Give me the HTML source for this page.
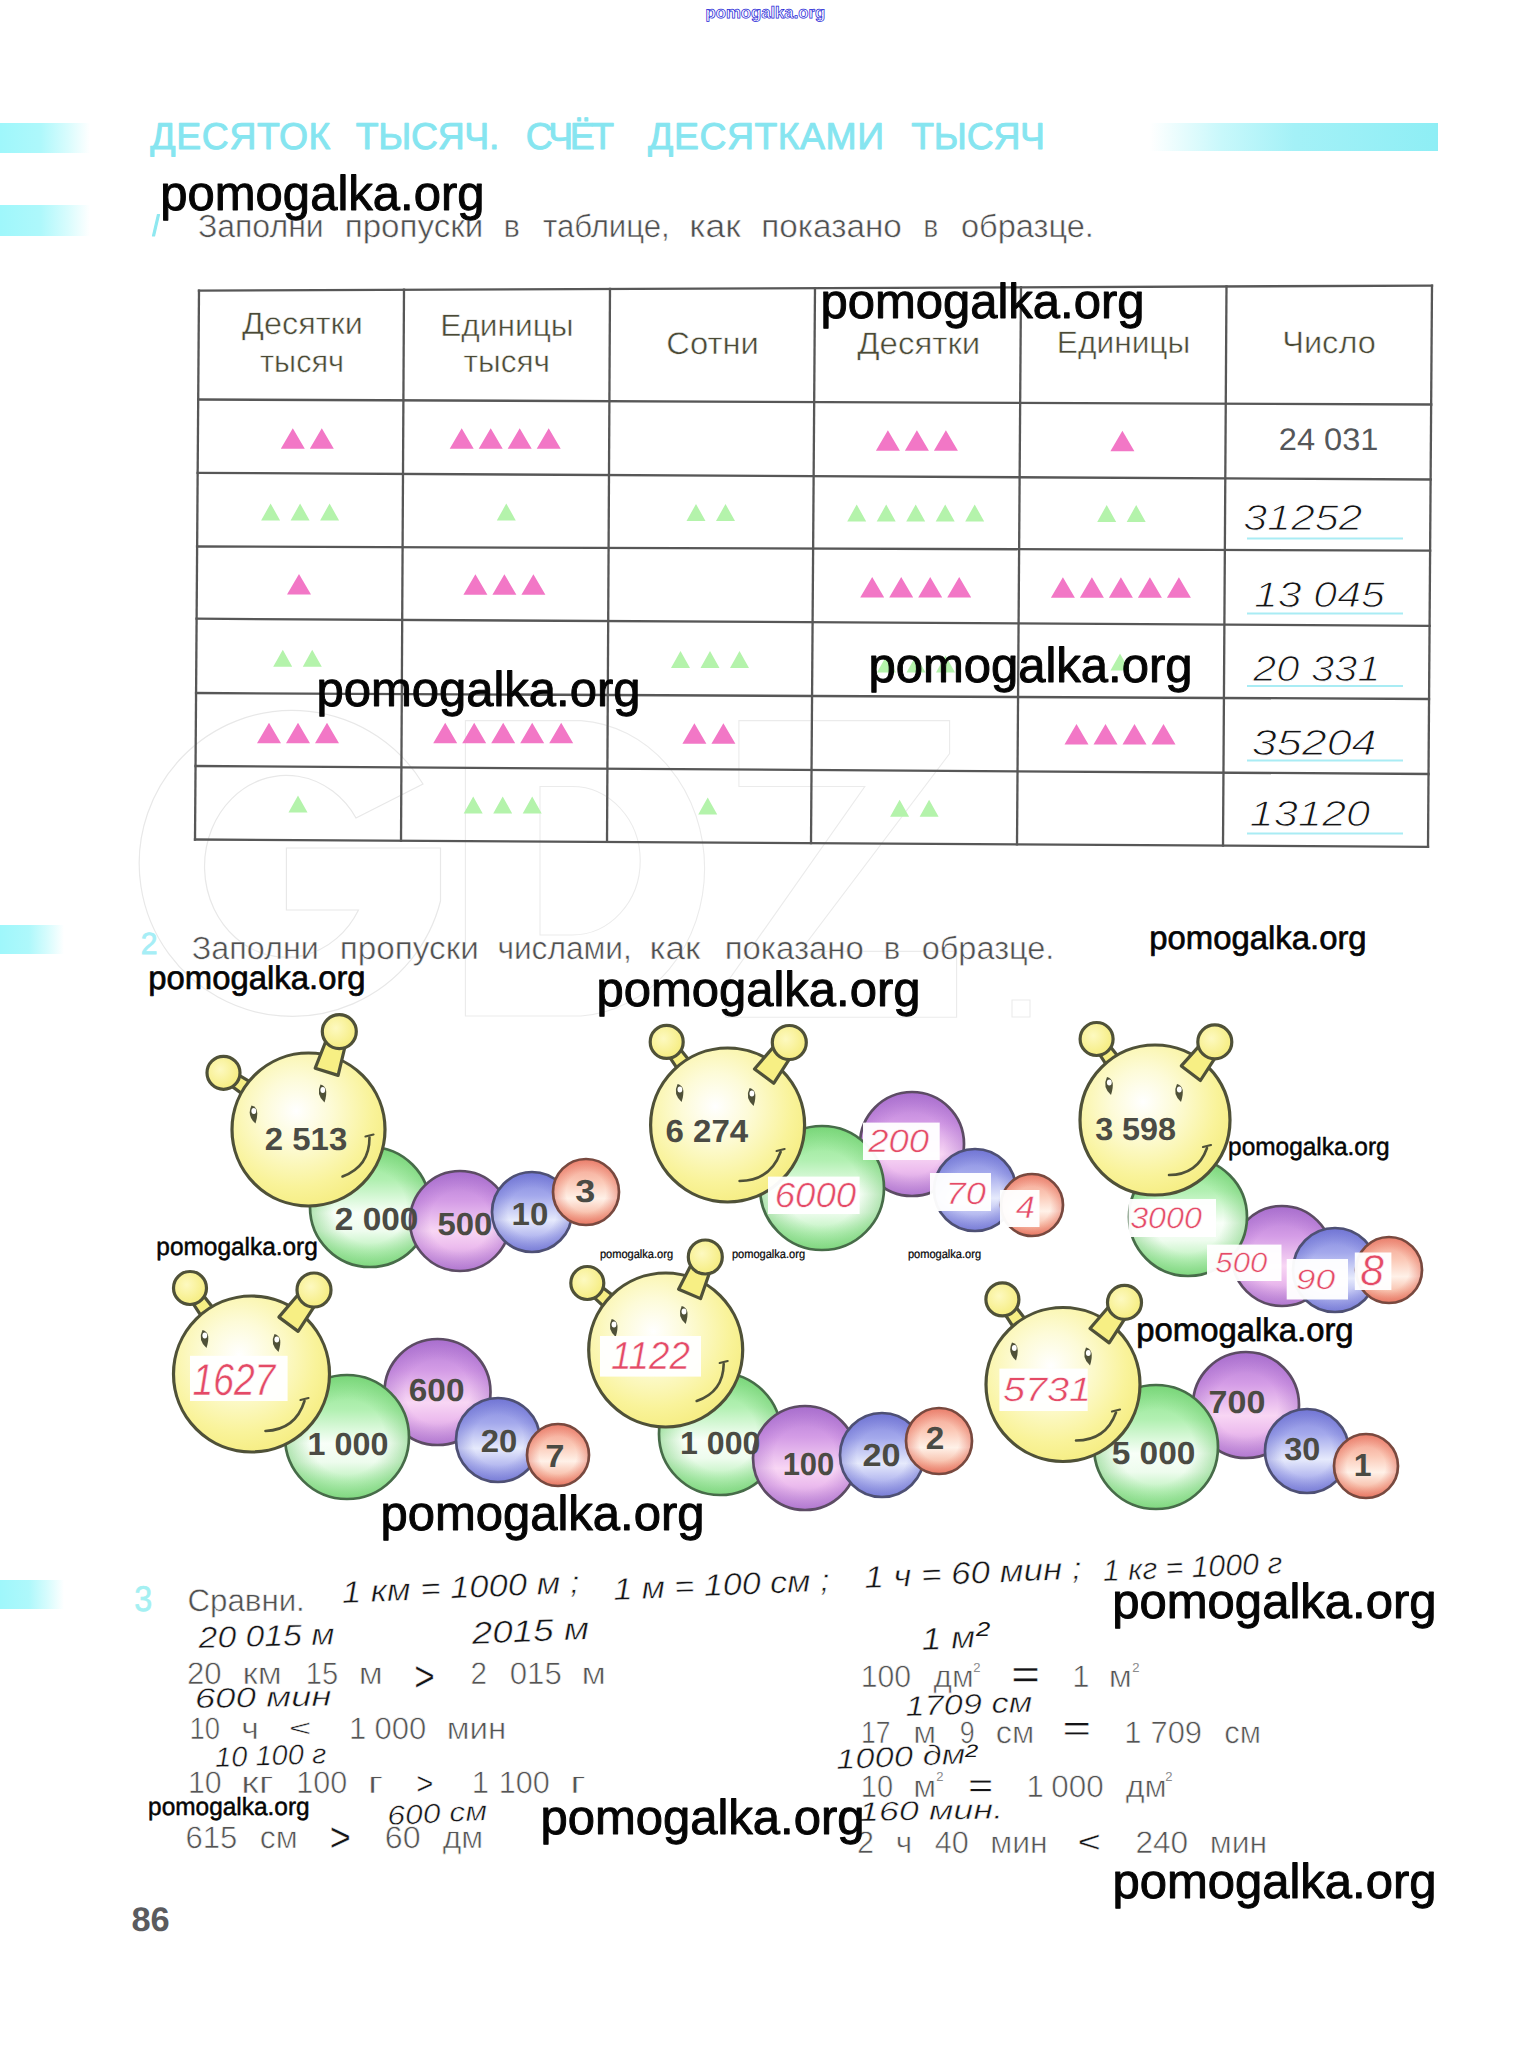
<!DOCTYPE html><html><head><meta charset="utf-8"><title>page 86</title><style>html,body{margin:0;padding:0;background:#fff;width:1529px;height:2061px;overflow:hidden;}svg{display:block;font-family:"Liberation Sans",sans-serif;}</style></head><body><svg width="1529" height="2061" viewBox="0 0 1529 2061" font-family="Liberation Sans" text-rendering="geometricPrecision"><defs>
<linearGradient id="barL" x1="0" x2="1" y1="0" y2="0">
  <stop offset="0" stop-color="#9ff7fb"/><stop offset="0.45" stop-color="#aef8fb"/>
  <stop offset="0.75" stop-color="#d8fcfd"/><stop offset="1" stop-color="#ffffff"/></linearGradient>
<linearGradient id="barR" x1="0" x2="1" y1="0" y2="0">
  <stop offset="0" stop-color="#ffffff"/><stop offset="0.25" stop-color="#c8f8fb"/>
  <stop offset="0.5" stop-color="#a4f1f7"/><stop offset="1" stop-color="#8eeef5"/></linearGradient>

<radialGradient id="gY" cx="0.42" cy="0.38" r="0.62"><stop offset="0" stop-color="#ffffff"/><stop offset="0.35" stop-color="#fdfbd8"/><stop offset="0.8" stop-color="#f9f39a"/><stop offset="1" stop-color="#f6ee86"/></radialGradient>
<linearGradient id="gG" x1="0" y1="0" x2="0" y2="1"><stop offset="0" stop-color="#8fe48f"/><stop offset="0.28" stop-color="#b2f0b2"/><stop offset="0.55" stop-color="#f8fff8"/><stop offset="0.7" stop-color="#eefcee"/><stop offset="0.86" stop-color="#bdf2bd"/><stop offset="1" stop-color="#9ce69c"/></linearGradient>
<radialGradient id="oG" cx="0.5" cy="0.5" r="0.5"><stop offset="0.6" stop-color="#5cc45c" stop-opacity="0"/><stop offset="1" stop-color="#5cc45c" stop-opacity="0.45"/></radialGradient>
<linearGradient id="gP" x1="0" y1="0" x2="0" y2="1"><stop offset="0" stop-color="#b27ad4"/><stop offset="0.3" stop-color="#d49ce6"/><stop offset="0.6" stop-color="#f8d6f4"/><stop offset="0.76" stop-color="#ecbcee"/><stop offset="1" stop-color="#c08ad8"/></linearGradient>
<radialGradient id="oP" cx="0.5" cy="0.5" r="0.5"><stop offset="0.6" stop-color="#9a5cc4" stop-opacity="0"/><stop offset="1" stop-color="#9a5cc4" stop-opacity="0.4"/></radialGradient>
<linearGradient id="gB" x1="0" y1="0" x2="0" y2="1"><stop offset="0" stop-color="#8084dc"/><stop offset="0.3" stop-color="#a4a9ec"/><stop offset="0.6" stop-color="#e6eafc"/><stop offset="0.8" stop-color="#b6baf0"/><stop offset="1" stop-color="#8c90e0"/></linearGradient>
<radialGradient id="oB" cx="0.5" cy="0.5" r="0.5"><stop offset="0.6" stop-color="#5a5ec8" stop-opacity="0"/><stop offset="1" stop-color="#5a5ec8" stop-opacity="0.4"/></radialGradient>
<linearGradient id="gR" x1="0" y1="0" x2="0" y2="1"><stop offset="0" stop-color="#f29a88"/><stop offset="0.35" stop-color="#fbcab8"/><stop offset="0.6" stop-color="#fff1e8"/><stop offset="0.82" stop-color="#f8c2ae"/><stop offset="1" stop-color="#ee8e7a"/></linearGradient>
<radialGradient id="oR" cx="0.5" cy="0.5" r="0.5"><stop offset="0.6" stop-color="#e05a46" stop-opacity="0"/><stop offset="1" stop-color="#e05a46" stop-opacity="0.45"/></radialGradient>
<radialGradient id="gA" cx="0.4" cy="0.4" r="0.65"><stop offset="0" stop-color="#fdf9c0"/><stop offset="1" stop-color="#f5ec7c"/></radialGradient>
</defs><rect width="1529" height="2061" fill="#ffffff"/><path d="M423,784 A153,153 0 1,0 440.5,901 L440.5,848 L286.4,848 L286.4,910 L358.5,910 A82,91 0 1,1 356,818 Z" fill="none" stroke="#e8e8e8" stroke-width="1.2"/>
<path d="M465.4,720.6 L581,720.6 A132,148 0 0,1 581,1016 L465.4,1016 Z M540,786.5 L572,786.5 A68,74 0 0,1 572,935 L540,935 Z M738.9,720.6 L949.6,720.6 L949.6,753.6 L800,951.4 L956.6,951.4 L956.6,1017.3 L725.9,1017.3 L725.9,984 L864.8,786.5 L738.9,786.5 Z M1012,1000 h18 v17 h-18 Z" fill="none" stroke="#ebebeb" stroke-width="1.1"/>
<rect x="0" y="123" width="90" height="30" fill="url(#barL)"/>
<rect x="0" y="205" width="90" height="31" fill="url(#barL)"/>
<rect x="0" y="925" width="64" height="29" fill="url(#barL)"/>
<rect x="0" y="1580" width="64" height="29" fill="url(#barL)"/>
<rect x="1150" y="123" width="288" height="28" fill="url(#barR)"/>
<text x="150.31" y="148.6" font-size="37.40" fill="#86e5f0" textLength="180.07" lengthAdjust="spacing" stroke="#86e5f0" stroke-width="0.9" stroke-linejoin="round">ДЕСЯТОК</text>
<text x="355.86" y="148.6" font-size="37.40" fill="#86e5f0" textLength="143.45" lengthAdjust="spacing" stroke="#86e5f0" stroke-width="0.9" stroke-linejoin="round">ТЫСЯЧ.</text>
<text x="525.82" y="148.6" font-size="37.40" fill="#86e5f0" textLength="88.31" lengthAdjust="spacing" stroke="#86e5f0" stroke-width="0.9" stroke-linejoin="round">СЧЁТ</text>
<text x="648.11" y="148.6" font-size="37.40" fill="#86e5f0" textLength="235.97" lengthAdjust="spacing" stroke="#86e5f0" stroke-width="0.9" stroke-linejoin="round">ДЕСЯТКАМИ</text>
<text x="911.26" y="148.6" font-size="37.40" fill="#86e5f0" textLength="133.78" lengthAdjust="spacing" stroke="#86e5f0" stroke-width="0.9" stroke-linejoin="round">ТЫСЯЧ</text>
<path d="M159.5,214.5 L157.5,214.5 L152.5,236 L154.5,236 Z" fill="#8fe8f0" stroke="#8fe8f0" stroke-width="1.2" stroke-linejoin="round"/>
<text x="197.88" y="237.2" font-size="32.00" fill="#4f4f4f" textLength="125.87" lengthAdjust="spacingAndGlyphs" stroke="#ffffff" stroke-width="0.5">Заполни</text>
<text x="344.68" y="237.2" font-size="32.00" fill="#4f4f4f" textLength="138.65" lengthAdjust="spacingAndGlyphs" stroke="#ffffff" stroke-width="0.5">пропуски</text>
<text x="503.68" y="237.2" font-size="32.00" fill="#4f4f4f" textLength="16.06" lengthAdjust="spacingAndGlyphs" stroke="#ffffff" stroke-width="0.5">в</text>
<text x="543.03" y="237.2" font-size="32.00" fill="#4f4f4f" textLength="126.72" lengthAdjust="spacingAndGlyphs" stroke="#ffffff" stroke-width="0.5">таблице,</text>
<text x="689.29" y="237.2" font-size="32.00" fill="#4f4f4f" textLength="51.64" lengthAdjust="spacingAndGlyphs" stroke="#ffffff" stroke-width="0.5">как</text>
<text x="761.17" y="237.2" font-size="32.00" fill="#4f4f4f" textLength="140.67" lengthAdjust="spacingAndGlyphs" stroke="#ffffff" stroke-width="0.5">показано</text>
<text x="923.47" y="237.2" font-size="32.00" fill="#4f4f4f" textLength="14.67" lengthAdjust="spacingAndGlyphs" stroke="#ffffff" stroke-width="0.5">в</text>
<text x="961.00" y="237.2" font-size="32.00" fill="#4f4f4f" textLength="132.90" lengthAdjust="spacingAndGlyphs" stroke="#ffffff" stroke-width="0.5">образце.</text>
<g stroke="#575757" stroke-width="2.3" fill="none"><line x1="197.8" y1="290.6" x2="1433.2" y2="285.6"/><line x1="197.0" y1="399.5" x2="1432.4" y2="404.5"/><line x1="196.5" y1="472.8" x2="1431.8" y2="479.5"/><line x1="195.9" y1="546.5" x2="1431.3" y2="550.6"/><line x1="195.4" y1="618.7" x2="1430.8" y2="625.8"/><line x1="194.9" y1="693" x2="1430.2" y2="699"/><line x1="194.4" y1="766" x2="1429.7" y2="774"/><line x1="193.8" y1="839.5" x2="1429.2" y2="846.8"/><line x1="199" y1="289.4" x2="195" y2="840.7"/><line x1="404" y1="288.6" x2="401" y2="841.9"/><line x1="610" y1="287.7" x2="607" y2="843.1"/><line x1="815" y1="286.9" x2="811" y2="844.3"/><line x1="1021" y1="286.1" x2="1017" y2="845.6"/><line x1="1226.5" y1="285.2" x2="1223" y2="846.8"/><line x1="1432" y1="284.4" x2="1428" y2="848.0"/></g>
<text x="242.14" y="333.5" font-size="31.00" fill="#4a4a36" textLength="120.60" lengthAdjust="spacingAndGlyphs" stroke="#ffffff" stroke-width="0.5">Десятки</text>
<text x="260.04" y="372.3" font-size="31.00" fill="#4a4a36" textLength="84.09" lengthAdjust="spacingAndGlyphs" stroke="#ffffff" stroke-width="0.5">тысяч</text>
<text x="440.17" y="336.3" font-size="31.00" fill="#4a4a36" textLength="133.44" lengthAdjust="spacingAndGlyphs" stroke="#ffffff" stroke-width="0.5">Единицы</text>
<text x="463.53" y="372.3" font-size="31.00" fill="#4a4a36" textLength="86.46" lengthAdjust="spacingAndGlyphs" stroke="#ffffff" stroke-width="0.5">тысяч</text>
<text x="666.36" y="354.3" font-size="31.00" fill="#4a4a36" textLength="92.44" lengthAdjust="spacingAndGlyphs" stroke="#ffffff" stroke-width="0.5">Сотни</text>
<text x="857.24" y="353.5" font-size="31.00" fill="#4a4a36" textLength="123.04" lengthAdjust="spacingAndGlyphs" stroke="#ffffff" stroke-width="0.5">Десятки</text>
<text x="1056.87" y="353.3" font-size="31.00" fill="#4a4a36" textLength="133.44" lengthAdjust="spacingAndGlyphs" stroke="#ffffff" stroke-width="0.5">Единицы</text>
<text x="1282.26" y="353.3" font-size="31.00" fill="#4a4a36" textLength="93.57" lengthAdjust="spacingAndGlyphs" stroke="#ffffff" stroke-width="0.5">Число</text>
<text x="1278.77" y="449.6" font-size="31.00" fill="#55575a" textLength="99.65" lengthAdjust="spacingAndGlyphs">24 031</text>
<path d="M280.8,448.8L292.8,428.2L304.8,448.8ZM309.8,448.8L321.8,428.2L333.8,448.8Z" fill="#f277c6"/>
<path d="M449.7,448.8L461.7,428.2L473.7,448.8ZM478.7,448.8L490.7,428.2L502.7,448.8ZM507.7,448.8L519.7,428.2L531.7,448.8ZM536.7,448.8L548.7,428.2L560.7,448.8Z" fill="#f277c6"/>
<path d="M875.9,450.8L887.9,430.2L899.9,450.8ZM904.9,450.8L916.9,430.2L928.9,450.8ZM933.9,450.8L945.9,430.2L957.9,450.8Z" fill="#f277c6"/>
<path d="M1110.4,451.2L1122.4,430.8L1134.4,451.2Z" fill="#f277c6"/>
<path d="M261.1,520.5L270.6,503.5L280.1,520.5ZM290.6,520.5L300.1,503.5L309.6,520.5ZM320.1,520.5L329.6,503.5L339.1,520.5Z" fill="#b4f3ab"/>
<path d="M496.8,520.5L506.3,503.5L515.8,520.5Z" fill="#b4f3ab"/>
<path d="M686.5,521.0L696.0,504.0L705.5,521.0ZM716.0,521.0L725.5,504.0L735.0,521.0Z" fill="#b4f3ab"/>
<path d="M847.2,521.5L856.7,504.5L866.2,521.5ZM876.7,521.5L886.2,504.5L895.7,521.5ZM906.2,521.5L915.7,504.5L925.2,521.5ZM935.7,521.5L945.2,504.5L954.7,521.5ZM965.2,521.5L974.7,504.5L984.2,521.5Z" fill="#b4f3ab"/>
<path d="M1097.2,522.0L1106.7,505.0L1116.2,522.0ZM1126.7,522.0L1136.2,505.0L1145.7,522.0Z" fill="#b4f3ab"/>
<path d="M287.0,594.5L299.0,574.0L311.0,594.5Z" fill="#f277c6"/>
<path d="M463.4,594.8L475.4,574.2L487.4,594.8ZM492.4,594.8L504.4,574.2L516.4,594.8ZM521.4,594.8L533.4,574.2L545.4,594.8Z" fill="#f277c6"/>
<path d="M860.2,597.5L872.2,577.0L884.2,597.5ZM889.2,597.5L901.2,577.0L913.2,597.5ZM918.2,597.5L930.2,577.0L942.2,597.5ZM947.2,597.5L959.2,577.0L971.2,597.5Z" fill="#f277c6"/>
<path d="M1050.9,597.8L1062.9,577.2L1074.9,597.8ZM1079.9,597.8L1091.9,577.2L1103.9,597.8ZM1108.9,597.8L1120.9,577.2L1132.9,597.8ZM1137.9,597.8L1149.9,577.2L1161.9,597.8ZM1166.9,597.8L1178.9,577.2L1190.9,597.8Z" fill="#f277c6"/>
<path d="M273.2,666.7L282.8,649.7L292.2,666.7ZM302.8,666.7L312.2,649.7L321.8,666.7Z" fill="#b4f3ab"/>
<path d="M671.0,668.0L680.5,651.0L690.0,668.0ZM700.5,668.0L710.0,651.0L719.5,668.0ZM730.0,668.0L739.5,651.0L749.0,668.0Z" fill="#b4f3ab"/>
<path d="M877.0,672.5L886.5,655.5L896.0,672.5ZM906.5,672.5L916.0,655.5L925.5,672.5ZM936.0,672.5L945.5,655.5L955.0,672.5Z" fill="#b4f3ab"/>
<path d="M1110.5,670.5L1120.0,653.5L1129.5,670.5Z" fill="#b4f3ab"/>
<path d="M257.0,743.2L269.0,722.8L281.0,743.2ZM286.0,743.2L298.0,722.8L310.0,743.2ZM315.0,743.2L327.0,722.8L339.0,743.2Z" fill="#f277c6"/>
<path d="M433.2,743.2L445.2,722.8L457.2,743.2ZM462.2,743.2L474.2,722.8L486.2,743.2ZM491.2,743.2L503.2,722.8L515.2,743.2ZM520.2,743.2L532.2,722.8L544.2,743.2ZM549.2,743.2L561.2,722.8L573.2,743.2Z" fill="#f277c6"/>
<path d="M682.4,743.8L694.4,723.2L706.4,743.8ZM711.4,743.8L723.4,723.2L735.4,743.8Z" fill="#f277c6"/>
<path d="M1064.5,744.6L1076.5,724.1L1088.5,744.6ZM1093.5,744.6L1105.5,724.1L1117.5,744.6ZM1122.5,744.6L1134.5,724.1L1146.5,744.6ZM1151.5,744.6L1163.5,724.1L1175.5,744.6Z" fill="#f277c6"/>
<path d="M288.5,812.5L298.0,795.5L307.5,812.5Z" fill="#b4f3ab"/>
<path d="M463.7,813.5L473.2,796.5L482.7,813.5ZM493.2,813.5L502.7,796.5L512.2,813.5ZM522.7,813.5L532.2,796.5L541.7,813.5Z" fill="#b4f3ab"/>
<path d="M698.2,814.5L707.7,797.5L717.2,814.5Z" fill="#b4f3ab"/>
<path d="M890.1,816.7L899.6,799.7L909.1,816.7ZM919.6,816.7L929.1,799.7L938.6,816.7Z" fill="#b4f3ab"/>
<text x="1243.23" y="530.0" font-size="36.00" fill="#141416" font-style="italic" textLength="119.24" lengthAdjust="spacingAndGlyphs" stroke="#ffffff" stroke-width="1.0">31252</text>
<line x1="1247" y1="538.5" x2="1403" y2="538.5" stroke="#a9ecf4" stroke-width="2.2"/>
<text x="1253.93" y="606.5" font-size="36.00" fill="#141416" font-style="italic" textLength="130.80" lengthAdjust="spacingAndGlyphs" stroke="#ffffff" stroke-width="1.0">13 045</text>
<line x1="1247" y1="613.5" x2="1403" y2="613.5" stroke="#a9ecf4" stroke-width="2.2"/>
<text x="1253.01" y="681.0" font-size="36.00" fill="#141416" font-style="italic" textLength="127.48" lengthAdjust="spacingAndGlyphs" stroke="#ffffff" stroke-width="1.0">20 331</text>
<line x1="1247" y1="686" x2="1403" y2="686" stroke="#a9ecf4" stroke-width="2.2"/>
<text x="1251.68" y="755.0" font-size="36.00" fill="#141416" font-style="italic" textLength="124.93" lengthAdjust="spacingAndGlyphs" stroke="#ffffff" stroke-width="1.0">35204</text>
<line x1="1247" y1="760.5" x2="1403" y2="760.5" stroke="#a9ecf4" stroke-width="2.2"/>
<text x="1249.62" y="826.0" font-size="36.00" fill="#141416" font-style="italic" textLength="120.64" lengthAdjust="spacingAndGlyphs" stroke="#ffffff" stroke-width="1.0">13120</text>
<line x1="1247" y1="833.5" x2="1403" y2="833.5" stroke="#a9ecf4" stroke-width="2.2"/>
<text x="140.79" y="953.8" font-size="30.71" fill="#a6eef6" textLength="16.75" lengthAdjust="spacingAndGlyphs" stroke="#a6eef6" stroke-width="0.8">2</text>
<text x="191.87" y="958.5" font-size="32.00" fill="#4f4f4f" textLength="126.90" lengthAdjust="spacingAndGlyphs" stroke="#ffffff" stroke-width="0.5">Заполни</text>
<text x="339.67" y="958.5" font-size="32.00" fill="#4f4f4f" textLength="139.17" lengthAdjust="spacingAndGlyphs" stroke="#ffffff" stroke-width="0.5">пропуски</text>
<text x="497.40" y="958.5" font-size="32.00" fill="#4f4f4f" textLength="134.39" lengthAdjust="spacingAndGlyphs" stroke="#ffffff" stroke-width="0.5">числами,</text>
<text x="649.42" y="958.5" font-size="32.00" fill="#4f4f4f" textLength="51.02" lengthAdjust="spacingAndGlyphs" stroke="#ffffff" stroke-width="0.5">как</text>
<text x="724.70" y="958.5" font-size="32.00" fill="#4f4f4f" textLength="139.13" lengthAdjust="spacingAndGlyphs" stroke="#ffffff" stroke-width="0.5">показано</text>
<text x="883.83" y="958.5" font-size="32.00" fill="#4f4f4f" textLength="16.44" lengthAdjust="spacingAndGlyphs" stroke="#ffffff" stroke-width="0.5">в</text>
<text x="921.70" y="958.5" font-size="32.00" fill="#4f4f4f" textLength="132.69" lengthAdjust="spacingAndGlyphs" stroke="#ffffff" stroke-width="0.5">образце.</text>
<circle cx="370" cy="1207" r="60" fill="url(#gG)"/>
<circle cx="370" cy="1207" r="60" fill="url(#oG)" stroke="#476c49" stroke-width="2.7"/>
<circle cx="460" cy="1221" r="50" fill="url(#gP)"/>
<circle cx="460" cy="1221" r="50" fill="url(#oP)" stroke="#5c4c64" stroke-width="2.7"/>
<circle cx="532" cy="1212" r="40" fill="url(#gB)"/>
<circle cx="532" cy="1212" r="40" fill="url(#oB)" stroke="#4e5074" stroke-width="2.7"/>
<circle cx="586" cy="1192" r="33" fill="url(#gR)"/>
<circle cx="586" cy="1192" r="33" fill="url(#oR)" stroke="#78493f" stroke-width="2.7"/>
<polygon points="230.3,1085.1 247.4,1097.7 255.7,1085.2 237.5,1074.3" fill="#f7ef84" stroke="#4f5138" stroke-width="3.2" stroke-linejoin="round"/>
<circle cx="223.5" cy="1072.8" r="16.5" fill="url(#gA)" stroke="#4f5138" stroke-width="3.2"/>
<circle cx="308.5" cy="1129.5" r="76.5" fill="url(#gY)" stroke="#4f5138" stroke-width="3.2"/>
<path d="M251.5,1105.5 Q260.5,1107.5 255.5,1123.5 Q246.5,1115.5 251.5,1105.5Z" fill="#4f5138"/>
<ellipse cx="253.8" cy="1111.0" rx="2.4" ry="3" fill="#fff"/>
<path d="M320.5,1084.5 Q329.5,1086.5 324.5,1102.5 Q315.5,1094.5 320.5,1084.5Z" fill="#4f5138"/>
<ellipse cx="322.8" cy="1090.0" rx="2.4" ry="3" fill="#fff"/>
<path d="M369.5,1137.5 Q369.6,1166.5 342.5,1176.5" fill="none" stroke="#4f5138" stroke-width="2.6" stroke-linecap="round"/>
<path d="M365.5,1136.5 L373.5,1134.5" stroke="#4f5138" stroke-width="2.2" stroke-linecap="round"/>
<polygon points="325.9,1041.0 315.2,1068.2 338.1,1075.4 344.9,1047.0" fill="#f7ef84" stroke="#4f5138" stroke-width="3.2" stroke-linejoin="round"/>
<circle cx="339.3" cy="1031.6" r="17" fill="url(#gA)" stroke="#4f5138" stroke-width="3.2"/>
<circle cx="912" cy="1144" r="52" fill="url(#gP)"/>
<circle cx="912" cy="1144" r="52" fill="url(#oP)" stroke="#5c4c64" stroke-width="2.7"/>
<circle cx="822" cy="1188" r="62" fill="url(#gG)"/>
<circle cx="822" cy="1188" r="62" fill="url(#oG)" stroke="#476c49" stroke-width="2.7"/>
<circle cx="975" cy="1190" r="41" fill="url(#gB)"/>
<circle cx="975" cy="1190" r="41" fill="url(#oB)" stroke="#4e5074" stroke-width="2.7"/>
<circle cx="1032" cy="1205" r="31" fill="url(#gR)"/>
<circle cx="1032" cy="1205" r="31" fill="url(#oR)" stroke="#78493f" stroke-width="2.7"/>
<polygon points="668.8,1055.8 680.8,1073.8 692.9,1064.9 679.3,1048.1" fill="#f7ef84" stroke="#4f5138" stroke-width="3.2" stroke-linejoin="round"/>
<circle cx="666.7" cy="1041.9" r="16.5" fill="url(#gA)" stroke="#4f5138" stroke-width="3.2"/>
<circle cx="727.6" cy="1125" r="77" fill="url(#gY)" stroke="#4f5138" stroke-width="3.2"/>
<path d="M677.6,1084.0 Q686.6,1086.0 681.6,1102.0 Q672.6,1094.0 677.6,1084.0Z" fill="#4f5138"/>
<ellipse cx="679.9" cy="1089.5" rx="2.4" ry="3" fill="#fff"/>
<path d="M749.6,1088.0 Q758.6,1090.0 753.6,1106.0 Q744.6,1098.0 749.6,1088.0Z" fill="#4f5138"/>
<ellipse cx="751.9" cy="1093.5" rx="2.4" ry="3" fill="#fff"/>
<path d="M780.6,1152.0 Q770.2,1180.8 739.6,1181.0" fill="none" stroke="#4f5138" stroke-width="2.6" stroke-linecap="round"/>
<path d="M776.6,1151.0 L784.6,1149.0" stroke="#4f5138" stroke-width="2.2" stroke-linecap="round"/>
<polygon points="773.5,1046.9 754.5,1069.0 773.7,1083.3 789.5,1058.9" fill="#f7ef84" stroke="#4f5138" stroke-width="3.2" stroke-linejoin="round"/>
<circle cx="789.3" cy="1042.5" r="17" fill="url(#gA)" stroke="#4f5138" stroke-width="3.2"/>
<circle cx="1282" cy="1256" r="50" fill="url(#gP)"/>
<circle cx="1282" cy="1256" r="50" fill="url(#oP)" stroke="#5c4c64" stroke-width="2.7"/>
<circle cx="1188" cy="1217" r="59" fill="url(#gG)"/>
<circle cx="1188" cy="1217" r="59" fill="url(#oG)" stroke="#476c49" stroke-width="2.7"/>
<circle cx="1335" cy="1270" r="42" fill="url(#gB)"/>
<circle cx="1335" cy="1270" r="42" fill="url(#oB)" stroke="#4e5074" stroke-width="2.7"/>
<circle cx="1389" cy="1270" r="33" fill="url(#gR)"/>
<circle cx="1389" cy="1270" r="33" fill="url(#oR)" stroke="#78493f" stroke-width="2.7"/>
<polygon points="1098.6,1052.9 1109.7,1070.0 1121.9,1061.3 1109.2,1045.3" fill="#f7ef84" stroke="#4f5138" stroke-width="3.2" stroke-linejoin="round"/>
<circle cx="1096.6" cy="1039" r="16.5" fill="url(#gA)" stroke="#4f5138" stroke-width="3.2"/>
<circle cx="1155" cy="1120" r="75" fill="url(#gY)" stroke="#4f5138" stroke-width="3.2"/>
<path d="M1107.0,1077.0 Q1116.0,1079.0 1111.0,1095.0 Q1102.0,1087.0 1107.0,1077.0Z" fill="#4f5138"/>
<ellipse cx="1109.3" cy="1082.5" rx="2.4" ry="3" fill="#fff"/>
<path d="M1177.0,1084.0 Q1186.0,1086.0 1181.0,1102.0 Q1172.0,1094.0 1177.0,1084.0Z" fill="#4f5138"/>
<ellipse cx="1179.3" cy="1089.5" rx="2.4" ry="3" fill="#fff"/>
<path d="M1207.0,1148.0 Q1197.5,1174.8 1169.0,1175.0" fill="none" stroke="#4f5138" stroke-width="2.6" stroke-linecap="round"/>
<path d="M1203.0,1147.0 L1211.0,1145.0" stroke="#4f5138" stroke-width="2.2" stroke-linecap="round"/>
<polygon points="1199.0,1046.1 1181.3,1065.9 1200.4,1080.5 1214.8,1058.3" fill="#f7ef84" stroke="#4f5138" stroke-width="3.2" stroke-linejoin="round"/>
<circle cx="1214.8" cy="1041.9" r="17" fill="url(#gA)" stroke="#4f5138" stroke-width="3.2"/>
<circle cx="437.5" cy="1392" r="53" fill="url(#gP)"/>
<circle cx="437.5" cy="1392" r="53" fill="url(#oP)" stroke="#5c4c64" stroke-width="2.7"/>
<circle cx="347" cy="1437" r="62" fill="url(#gG)"/>
<circle cx="347" cy="1437" r="62" fill="url(#oG)" stroke="#476c49" stroke-width="2.7"/>
<circle cx="498" cy="1440" r="42" fill="url(#gB)"/>
<circle cx="498" cy="1440" r="42" fill="url(#oB)" stroke="#4e5074" stroke-width="2.7"/>
<circle cx="558" cy="1455" r="31" fill="url(#gR)"/>
<circle cx="558" cy="1455" r="31" fill="url(#oR)" stroke="#78493f" stroke-width="2.7"/>
<polygon points="192.0,1301.9 204.7,1321.4 216.9,1312.7 202.6,1294.4" fill="#f7ef84" stroke="#4f5138" stroke-width="3.2" stroke-linejoin="round"/>
<circle cx="190" cy="1288" r="16.5" fill="url(#gA)" stroke="#4f5138" stroke-width="3.2"/>
<circle cx="251.5" cy="1374" r="78" fill="url(#gY)" stroke="#4f5138" stroke-width="3.2"/>
<path d="M202.5,1330.0 Q211.5,1332.0 206.5,1348.0 Q197.5,1340.0 202.5,1330.0Z" fill="#4f5138"/>
<ellipse cx="204.8" cy="1335.5" rx="2.4" ry="3" fill="#fff"/>
<path d="M274.5,1334.0 Q283.5,1336.0 278.5,1352.0 Q269.5,1344.0 274.5,1334.0Z" fill="#4f5138"/>
<ellipse cx="276.8" cy="1339.5" rx="2.4" ry="3" fill="#fff"/>
<path d="M304.5,1401.0 Q295.5,1429.7 265.5,1431.0" fill="none" stroke="#4f5138" stroke-width="2.6" stroke-linecap="round"/>
<path d="M300.5,1400.0 L308.5,1398.0" stroke="#4f5138" stroke-width="2.2" stroke-linecap="round"/>
<polygon points="298.2,1294.5 278.9,1317.1 298.1,1331.4 314.3,1306.4" fill="#f7ef84" stroke="#4f5138" stroke-width="3.2" stroke-linejoin="round"/>
<circle cx="314" cy="1290" r="17" fill="url(#gA)" stroke="#4f5138" stroke-width="3.2"/>
<circle cx="720" cy="1434" r="61" fill="url(#gG)"/>
<circle cx="720" cy="1434" r="61" fill="url(#oG)" stroke="#476c49" stroke-width="2.7"/>
<circle cx="805" cy="1458" r="52" fill="url(#gP)"/>
<circle cx="805" cy="1458" r="52" fill="url(#oP)" stroke="#5c4c64" stroke-width="2.7"/>
<circle cx="882" cy="1455" r="42" fill="url(#gB)"/>
<circle cx="882" cy="1455" r="42" fill="url(#oB)" stroke="#4e5074" stroke-width="2.7"/>
<circle cx="939" cy="1441" r="33" fill="url(#gR)"/>
<circle cx="939" cy="1441" r="33" fill="url(#oR)" stroke="#78493f" stroke-width="2.7"/>
<polygon points="592.6,1296.1 608.4,1310.9 618.1,1299.5 601.0,1286.2" fill="#f7ef84" stroke="#4f5138" stroke-width="3.2" stroke-linejoin="round"/>
<circle cx="587.3" cy="1283" r="16.5" fill="url(#gA)" stroke="#4f5138" stroke-width="3.2"/>
<circle cx="665.7" cy="1350" r="77" fill="url(#gY)" stroke="#4f5138" stroke-width="3.2"/>
<path d="M611.7,1319.0 Q620.7,1321.0 615.7,1337.0 Q606.7,1329.0 611.7,1319.0Z" fill="#4f5138"/>
<ellipse cx="614.0" cy="1324.5" rx="2.4" ry="3" fill="#fff"/>
<path d="M681.7,1306.0 Q690.7,1308.0 685.7,1324.0 Q676.7,1316.0 681.7,1306.0Z" fill="#4f5138"/>
<ellipse cx="684.0" cy="1311.5" rx="2.4" ry="3" fill="#fff"/>
<path d="M723.7,1364.0 Q723.2,1392.0 696.7,1401.0" fill="none" stroke="#4f5138" stroke-width="2.6" stroke-linecap="round"/>
<path d="M719.7,1363.0 L727.7,1361.0" stroke="#4f5138" stroke-width="2.2" stroke-linecap="round"/>
<polygon points="691.0,1265.0 678.6,1289.2 700.6,1298.6 709.4,1272.9" fill="#f7ef84" stroke="#4f5138" stroke-width="3.2" stroke-linejoin="round"/>
<circle cx="705.3" cy="1257" r="17" fill="url(#gA)" stroke="#4f5138" stroke-width="3.2"/>
<circle cx="1246" cy="1405" r="53" fill="url(#gP)"/>
<circle cx="1246" cy="1405" r="53" fill="url(#oP)" stroke="#5c4c64" stroke-width="2.7"/>
<circle cx="1156" cy="1447" r="62" fill="url(#gG)"/>
<circle cx="1156" cy="1447" r="62" fill="url(#oG)" stroke="#476c49" stroke-width="2.7"/>
<circle cx="1307" cy="1451" r="42" fill="url(#gB)"/>
<circle cx="1307" cy="1451" r="42" fill="url(#oB)" stroke="#4e5074" stroke-width="2.7"/>
<circle cx="1366" cy="1466" r="32" fill="url(#gR)"/>
<circle cx="1366" cy="1466" r="32" fill="url(#oR)" stroke="#78493f" stroke-width="2.7"/>
<polygon points="1004.4,1313.4 1016.9,1332.6 1029.1,1323.9 1014.9,1305.8" fill="#f7ef84" stroke="#4f5138" stroke-width="3.2" stroke-linejoin="round"/>
<circle cx="1002.4" cy="1299.4" r="16.5" fill="url(#gA)" stroke="#4f5138" stroke-width="3.2"/>
<circle cx="1063" cy="1384.5" r="77" fill="url(#gY)" stroke="#4f5138" stroke-width="3.2"/>
<path d="M1012.0,1342.5 Q1021.0,1344.5 1016.0,1360.5 Q1007.0,1352.5 1012.0,1342.5Z" fill="#4f5138"/>
<ellipse cx="1014.3" cy="1348.0" rx="2.4" ry="3" fill="#fff"/>
<path d="M1086.0,1347.5 Q1095.0,1349.5 1090.0,1365.5 Q1081.0,1357.5 1086.0,1347.5Z" fill="#4f5138"/>
<ellipse cx="1088.3" cy="1353.0" rx="2.4" ry="3" fill="#fff"/>
<path d="M1116.0,1412.5 Q1105.8,1440.5 1076.0,1440.5" fill="none" stroke="#4f5138" stroke-width="2.6" stroke-linecap="round"/>
<path d="M1112.0,1411.5 L1120.0,1409.5" stroke="#4f5138" stroke-width="2.2" stroke-linecap="round"/>
<polygon points="1108.7,1306.8 1090.0,1328.5 1109.2,1342.9 1124.7,1318.8" fill="#f7ef84" stroke="#4f5138" stroke-width="3.2" stroke-linejoin="round"/>
<circle cx="1124.5" cy="1302.4" r="17" fill="url(#gA)" stroke="#4f5138" stroke-width="3.2"/>
<text x="264.85" y="1150.0" font-size="32.00" fill="#4b4b44" font-weight="bold" textLength="82.39" lengthAdjust="spacingAndGlyphs">2 513</text>
<text x="334.83" y="1229.5" font-size="32.00" fill="#4b4b44" font-weight="bold" textLength="83.59" lengthAdjust="spacingAndGlyphs">2 000</text>
<text x="437.51" y="1235.0" font-size="32.00" fill="#4b4b44" font-weight="bold" textLength="54.92" lengthAdjust="spacingAndGlyphs">500</text>
<text x="511.62" y="1225.0" font-size="32.00" fill="#4b4b44" font-weight="bold" textLength="36.78" lengthAdjust="spacingAndGlyphs">10</text>
<text x="575.28" y="1202.0" font-size="32.00" fill="#4b4b44" font-weight="bold" textLength="20.02" lengthAdjust="spacingAndGlyphs">3</text>
<text x="665.54" y="1142.0" font-size="32.00" fill="#4b4b44" font-weight="bold" textLength="82.70" lengthAdjust="spacingAndGlyphs">6 274</text>
<rect x="768" y="1176.6" width="91.6" height="37.4" fill="#ffffff" fill-opacity="0.96"/>
<text x="774.69" y="1207.0" font-size="34.86" fill="#e44a66" font-style="italic" textLength="81.49" lengthAdjust="spacingAndGlyphs" stroke="#ffffff" stroke-width="0.5">6000</text>
<rect x="863" y="1122.6" width="76.7" height="37.4" fill="#ffffff" fill-opacity="0.96"/>
<text x="868.18" y="1152.2" font-size="32.29" fill="#e44a66" font-style="italic" textLength="60.83" lengthAdjust="spacingAndGlyphs" stroke="#ffffff" stroke-width="0.5">200</text>
<rect x="930" y="1173" width="61.0" height="38.0" fill="#ffffff" fill-opacity="0.96"/>
<text x="945.49" y="1204.2" font-size="30.86" fill="#e44a66" font-style="italic" textLength="40.38" lengthAdjust="spacingAndGlyphs" stroke="#ffffff" stroke-width="0.5">70</text>
<rect x="1000" y="1190" width="39.5" height="37.0" fill="#ffffff" fill-opacity="0.96"/>
<text x="1015.83" y="1218.0" font-size="31.45" fill="#e44a66" font-style="italic" textLength="19.12" lengthAdjust="spacingAndGlyphs" stroke="#ffffff" stroke-width="0.5">4</text>
<text x="1095.15" y="1140.0" font-size="32.00" fill="#4b4b44" font-weight="bold" textLength="80.90" lengthAdjust="spacingAndGlyphs">3 598</text>
<rect x="1128.5" y="1199" width="87.5" height="38.0" fill="#ffffff" fill-opacity="0.96"/>
<text x="1130.19" y="1227.6" font-size="29.86" fill="#e44a66" font-style="italic" textLength="71.66" lengthAdjust="spacingAndGlyphs" stroke="#ffffff" stroke-width="0.5">3000</text>
<rect x="1207" y="1244.6" width="74.5" height="36.4" fill="#ffffff" fill-opacity="0.96"/>
<text x="1215.38" y="1272.0" font-size="27.86" fill="#e44a66" font-style="italic" textLength="51.89" lengthAdjust="spacingAndGlyphs" stroke="#ffffff" stroke-width="0.5">500</text>
<rect x="1286.7" y="1259" width="61.3" height="40.5" fill="#ffffff" fill-opacity="0.96"/>
<text x="1295.76" y="1289.0" font-size="27.86" fill="#e44a66" font-style="italic" textLength="39.50" lengthAdjust="spacingAndGlyphs" stroke="#ffffff" stroke-width="0.5">90</text>
<rect x="1354.8" y="1252.5" width="36.6" height="37.5" fill="#ffffff" fill-opacity="0.96"/>
<text x="1360.24" y="1285.0" font-size="42.86" fill="#e44a66" font-style="italic" textLength="23.62" lengthAdjust="spacingAndGlyphs" stroke="#ffffff" stroke-width="0.5">8</text>
<rect x="190" y="1355.8" width="97.6" height="45.2" fill="#ffffff" fill-opacity="0.96"/>
<text x="192.47" y="1395.0" font-size="44.86" fill="#e44a66" font-style="italic" textLength="82.82" lengthAdjust="spacingAndGlyphs" stroke="#ffffff" stroke-width="0.5">1627</text>
<text x="307.56" y="1454.7" font-size="32.00" fill="#4b4b44" font-weight="bold" textLength="80.81" lengthAdjust="spacingAndGlyphs">1 000</text>
<text x="408.83" y="1401.3" font-size="32.00" fill="#4b4b44" font-weight="bold" textLength="55.62" lengthAdjust="spacingAndGlyphs">600</text>
<text x="480.85" y="1451.5" font-size="32.00" fill="#4b4b44" font-weight="bold" textLength="36.54" lengthAdjust="spacingAndGlyphs">20</text>
<text x="545.22" y="1467.0" font-size="32.00" fill="#4b4b44" font-weight="bold" textLength="19.20" lengthAdjust="spacingAndGlyphs">7</text>
<rect x="600" y="1336" width="101.0" height="40.6" fill="#ffffff" fill-opacity="0.96"/>
<text x="610.88" y="1369.4" font-size="39.14" fill="#e44a66" font-style="italic" textLength="79.00" lengthAdjust="spacingAndGlyphs" stroke="#ffffff" stroke-width="0.5">1122</text>
<text x="680.08" y="1454.0" font-size="32.00" fill="#4b4b44" font-weight="bold" textLength="80.29" lengthAdjust="spacingAndGlyphs">1 000</text>
<text x="782.64" y="1474.5" font-size="32.00" fill="#4b4b44" font-weight="bold" textLength="51.71" lengthAdjust="spacingAndGlyphs">100</text>
<text x="862.40" y="1466.0" font-size="32.00" fill="#4b4b44" font-weight="bold" textLength="38.05" lengthAdjust="spacingAndGlyphs">20</text>
<text x="925.83" y="1448.6" font-size="32.00" fill="#4b4b44" font-weight="bold" textLength="18.54" lengthAdjust="spacingAndGlyphs">2</text>
<rect x="999.4" y="1368.6" width="88.3" height="42.4" fill="#ffffff" fill-opacity="0.96"/>
<text x="1003.01" y="1401.0" font-size="33.71" fill="#e44a66" font-style="italic" textLength="88.04" lengthAdjust="spacingAndGlyphs" stroke="#ffffff" stroke-width="0.5">5731</text>
<text x="1111.70" y="1464.0" font-size="32.00" fill="#4b4b44" font-weight="bold" textLength="83.73" lengthAdjust="spacingAndGlyphs">5 000</text>
<text x="1208.64" y="1412.7" font-size="32.00" fill="#4b4b44" font-weight="bold" textLength="56.85" lengthAdjust="spacingAndGlyphs">700</text>
<text x="1284.35" y="1460.0" font-size="32.00" fill="#4b4b44" font-weight="bold" textLength="36.02" lengthAdjust="spacingAndGlyphs">30</text>
<text x="1353.81" y="1476.0" font-size="32.00" fill="#4b4b44" font-weight="bold">1</text>
<text x="134.37" y="1611.0" font-size="35.71" fill="#a4f0f2" textLength="17.96" lengthAdjust="spacingAndGlyphs" stroke="#a4f0f2" stroke-width="0.6">3</text>
<text x="187.44" y="1611.0" font-size="31.00" fill="#4f4f4f" textLength="117.36" lengthAdjust="spacingAndGlyphs" stroke="#ffffff" stroke-width="0.5">Сравни.</text>
<text x="187.04" y="1683.6" font-size="31.00" fill="#545454" textLength="34.62" lengthAdjust="spacingAndGlyphs" stroke="#ffffff" stroke-width="0.6">20</text>
<text x="242.43" y="1683.6" font-size="31.00" fill="#545454" textLength="39.35" lengthAdjust="spacingAndGlyphs" stroke="#ffffff" stroke-width="0.6">км</text>
<text x="305.81" y="1683.6" font-size="31.00" fill="#545454" textLength="32.42" lengthAdjust="spacingAndGlyphs" stroke="#ffffff" stroke-width="0.6">15</text>
<text x="358.86" y="1683.6" font-size="31.00" fill="#545454" textLength="24.00" lengthAdjust="spacingAndGlyphs" stroke="#ffffff" stroke-width="0.6">м</text>
<text x="470.52" y="1683.6" font-size="31.00" fill="#545454" textLength="16.50" lengthAdjust="spacingAndGlyphs" stroke="#ffffff" stroke-width="0.6">2</text>
<text x="509.75" y="1683.6" font-size="31.00" fill="#545454" textLength="52.11" lengthAdjust="spacingAndGlyphs" stroke="#ffffff" stroke-width="0.6">015</text>
<text x="581.52" y="1683.6" font-size="31.00" fill="#545454" textLength="24.37" lengthAdjust="spacingAndGlyphs" stroke="#ffffff" stroke-width="0.6">м</text>
<text x="189.44" y="1739.0" font-size="31.00" fill="#545454" textLength="30.59" lengthAdjust="spacingAndGlyphs" stroke="#ffffff" stroke-width="0.6">10</text>
<text x="241.27" y="1739.0" font-size="31.00" fill="#545454" textLength="17.63" lengthAdjust="spacingAndGlyphs" stroke="#ffffff" stroke-width="0.6">ч</text>
<text x="349.03" y="1739.0" font-size="31.00" fill="#545454" stroke="#ffffff" stroke-width="0.6">1</text>
<text x="374.46" y="1739.0" font-size="31.00" fill="#545454" textLength="51.73" lengthAdjust="spacingAndGlyphs" stroke="#ffffff" stroke-width="0.6">000</text>
<text x="446.68" y="1739.0" font-size="31.00" fill="#545454" textLength="59.58" lengthAdjust="spacingAndGlyphs" stroke="#ffffff" stroke-width="0.6">мин</text>
<text x="187.93" y="1793.2" font-size="31.00" fill="#545454" textLength="33.70" lengthAdjust="spacingAndGlyphs" stroke="#ffffff" stroke-width="0.6">10</text>
<text x="240.95" y="1793.2" font-size="31.00" fill="#545454" textLength="32.66" lengthAdjust="spacingAndGlyphs" stroke="#ffffff" stroke-width="0.6">кг</text>
<text x="296.21" y="1793.2" font-size="31.00" fill="#545454" textLength="50.97" lengthAdjust="spacingAndGlyphs" stroke="#ffffff" stroke-width="0.6">100</text>
<text x="367.84" y="1793.2" font-size="31.00" fill="#545454" textLength="15.42" lengthAdjust="spacingAndGlyphs" stroke="#ffffff" stroke-width="0.6">г</text>
<text x="471.63" y="1793.2" font-size="31.00" fill="#545454" stroke="#ffffff" stroke-width="0.6">1</text>
<text x="498.71" y="1793.2" font-size="31.00" fill="#545454" textLength="50.97" lengthAdjust="spacingAndGlyphs" stroke="#ffffff" stroke-width="0.6">100</text>
<text x="569.96" y="1793.2" font-size="31.00" fill="#545454" textLength="15.83" lengthAdjust="spacingAndGlyphs" stroke="#ffffff" stroke-width="0.6">г</text>
<text x="185.44" y="1848.0" font-size="31.00" fill="#545454" textLength="51.91" lengthAdjust="spacingAndGlyphs" stroke="#ffffff" stroke-width="0.6">615</text>
<text x="259.72" y="1848.0" font-size="31.00" fill="#545454" textLength="37.93" lengthAdjust="spacingAndGlyphs" stroke="#ffffff" stroke-width="0.6">см</text>
<text x="384.89" y="1848.0" font-size="31.00" fill="#545454" textLength="35.81" lengthAdjust="spacingAndGlyphs" stroke="#ffffff" stroke-width="0.6">60</text>
<text x="442.68" y="1848.0" font-size="31.00" fill="#545454" textLength="40.42" lengthAdjust="spacingAndGlyphs" stroke="#ffffff" stroke-width="0.6">дм</text>
<text x="860.73" y="1687.0" font-size="31.00" fill="#545454" textLength="50.43" lengthAdjust="spacingAndGlyphs" stroke="#ffffff" stroke-width="0.6">100</text>
<text x="933.48" y="1687.0" font-size="31.00" fill="#545454" textLength="40.10" lengthAdjust="spacingAndGlyphs" stroke="#ffffff" stroke-width="0.6">дм</text>
<text x="1072.18" y="1687.0" font-size="31.00" fill="#545454" stroke="#ffffff" stroke-width="0.6">1</text>
<text x="1108.65" y="1687.0" font-size="31.00" fill="#545454" textLength="23.12" lengthAdjust="spacingAndGlyphs" stroke="#ffffff" stroke-width="0.6">м</text>
<text x="861.02" y="1742.6" font-size="31.00" fill="#545454" textLength="29.36" lengthAdjust="spacingAndGlyphs" stroke="#ffffff" stroke-width="0.6">17</text>
<text x="913.37" y="1742.6" font-size="31.00" fill="#545454" textLength="22.87" lengthAdjust="spacingAndGlyphs" stroke="#ffffff" stroke-width="0.6">м</text>
<text x="959.79" y="1742.6" font-size="31.00" fill="#545454" textLength="14.95" lengthAdjust="spacingAndGlyphs" stroke="#ffffff" stroke-width="0.6">9</text>
<text x="995.70" y="1742.6" font-size="31.00" fill="#545454" textLength="38.48" lengthAdjust="spacingAndGlyphs" stroke="#ffffff" stroke-width="0.6">см</text>
<text x="1124.13" y="1742.6" font-size="31.00" fill="#545454" stroke="#ffffff" stroke-width="0.6">1</text>
<text x="1150.46" y="1742.6" font-size="31.00" fill="#545454" textLength="51.54" lengthAdjust="spacingAndGlyphs" stroke="#ffffff" stroke-width="0.6">709</text>
<text x="1224.36" y="1742.6" font-size="31.00" fill="#545454" textLength="36.72" lengthAdjust="spacingAndGlyphs" stroke="#ffffff" stroke-width="0.6">см</text>
<text x="860.83" y="1796.8" font-size="31.00" fill="#545454" textLength="32.26" lengthAdjust="spacingAndGlyphs" stroke="#ffffff" stroke-width="0.6">10</text>
<text x="913.37" y="1796.8" font-size="31.00" fill="#545454" textLength="22.87" lengthAdjust="spacingAndGlyphs" stroke="#ffffff" stroke-width="0.6">м</text>
<text x="1026.43" y="1796.8" font-size="31.00" fill="#545454" stroke="#ffffff" stroke-width="0.6">1</text>
<text x="1051.34" y="1796.8" font-size="31.00" fill="#545454" textLength="52.36" lengthAdjust="spacingAndGlyphs" stroke="#ffffff" stroke-width="0.6">000</text>
<text x="1125.68" y="1796.8" font-size="31.00" fill="#545454" textLength="40.95" lengthAdjust="spacingAndGlyphs" stroke="#ffffff" stroke-width="0.6">дм</text>
<text x="857.07" y="1852.5" font-size="31.00" fill="#545454" textLength="16.99" lengthAdjust="spacingAndGlyphs" stroke="#ffffff" stroke-width="0.6">2</text>
<text x="895.81" y="1852.5" font-size="31.00" fill="#545454" textLength="16.43" lengthAdjust="spacingAndGlyphs" stroke="#ffffff" stroke-width="0.6">ч</text>
<text x="934.69" y="1852.5" font-size="31.00" fill="#545454" textLength="33.95" lengthAdjust="spacingAndGlyphs" stroke="#ffffff" stroke-width="0.6">40</text>
<text x="990.27" y="1852.5" font-size="31.00" fill="#545454" textLength="57.42" lengthAdjust="spacingAndGlyphs" stroke="#ffffff" stroke-width="0.6">мин</text>
<text x="1135.42" y="1852.5" font-size="31.00" fill="#545454" textLength="52.80" lengthAdjust="spacingAndGlyphs" stroke="#ffffff" stroke-width="0.6">240</text>
<text x="1209.77" y="1852.5" font-size="31.00" fill="#545454" textLength="57.42" lengthAdjust="spacingAndGlyphs" stroke="#ffffff" stroke-width="0.6">мин</text>
<text x="973.35" y="1672.0" font-size="13.00" fill="#8a8a8a">2</text>
<text x="1132.35" y="1672.0" font-size="13.00" fill="#8a8a8a">2</text>
<text x="936.35" y="1781.0" font-size="13.00" fill="#8a8a8a">2</text>
<text x="1165.35" y="1781.0" font-size="13.00" fill="#8a8a8a">2</text>
<text x="342.13" y="1603.0" font-size="31.00" fill="#141416" font-style="italic" textLength="238.08" lengthAdjust="spacingAndGlyphs" stroke="#ffffff" stroke-width="0.5" transform="rotate(-2.5 343 1603)">1 км = 1000 м ;</text>
<text x="613.65" y="1600.0" font-size="31.00" fill="#141416" font-style="italic" textLength="216.43" lengthAdjust="spacingAndGlyphs" stroke="#ffffff" stroke-width="0.5" transform="rotate(-2.5 614.5 1600)">1 м = 100 см ;</text>
<text x="864.63" y="1588.0" font-size="31.00" fill="#141416" font-style="italic" textLength="217.56" lengthAdjust="spacingAndGlyphs" stroke="#ffffff" stroke-width="0.5" transform="rotate(-2.5 865.5 1588)">1 ч = 60 мин ;</text>
<text x="1103.24" y="1581.0" font-size="30.00" fill="#141416" font-style="italic" textLength="179.50" lengthAdjust="spacingAndGlyphs" stroke="#ffffff" stroke-width="0.5" transform="rotate(-2.5 1104 1581)">1 кг = 1000 г</text>
<text x="198.87" y="1648.0" font-size="30.00" fill="#141416" font-style="italic" textLength="135.88" lengthAdjust="spacingAndGlyphs" stroke="#ffffff" stroke-width="0.5" transform="rotate(-1.5 198.7 1648)">20 015 м</text>
<text x="472.18" y="1644.0" font-size="31.00" fill="#141416" font-style="italic" textLength="117.48" lengthAdjust="spacingAndGlyphs" stroke="#ffffff" stroke-width="0.5" transform="rotate(-2.5 472 1644)">2015 м</text>
<text x="194.99" y="1708.0" font-size="28.00" fill="#141416" font-style="italic" textLength="136.68" lengthAdjust="spacingAndGlyphs" stroke="#ffffff" stroke-width="0.5" transform="rotate(-1 197 1708)">600 мин</text>
<text x="215.27" y="1767.0" font-size="28.00" fill="#141416" font-style="italic" textLength="111.45" lengthAdjust="spacingAndGlyphs" stroke="#ffffff" stroke-width="0.5" transform="rotate(-2 216 1767)">10 100 г</text>
<text x="387.85" y="1825.0" font-size="27.00" fill="#141416" font-style="italic" textLength="99.85" lengthAdjust="spacingAndGlyphs" stroke="#ffffff" stroke-width="0.5" transform="rotate(-3 389.6 1825)">600 см</text>
<text x="922.12" y="1650.0" font-size="31.00" fill="#141416" font-style="italic" textLength="53.57" lengthAdjust="spacingAndGlyphs" stroke="#ffffff" stroke-width="0.5" transform="rotate(-3 923 1650)">1 м</text>
<text x="976.13" y="1636.0" font-size="20.00" fill="#141416" font-style="italic" textLength="14.16" lengthAdjust="spacingAndGlyphs">2</text>
<text x="905.84" y="1716.0" font-size="28.00" fill="#141416" font-style="italic" textLength="126.78" lengthAdjust="spacingAndGlyphs" stroke="#ffffff" stroke-width="0.5" transform="rotate(-2 906.7 1716)">1709 см</text>
<text x="836.64" y="1769.0" font-size="28.00" fill="#141416" font-style="italic" textLength="129.08" lengthAdjust="spacingAndGlyphs" stroke="#ffffff" stroke-width="0.5" transform="rotate(-2.5 837.5 1769)">1000 дм</text>
<text x="965.12" y="1757.0" font-size="18.00" fill="#141416" font-style="italic" textLength="13.15" lengthAdjust="spacingAndGlyphs">2</text>
<text x="859.10" y="1821.0" font-size="27.00" fill="#141416" font-style="italic" textLength="144.25" lengthAdjust="spacingAndGlyphs" stroke="#ffffff" stroke-width="0.5" transform="rotate(-1 860 1821)">160 мин.</text>
<text x="413.72" y="1690.9" font-size="42.97" fill="#141416" font-style="italic" textLength="20.47" lengthAdjust="spacingAndGlyphs" stroke="#ffffff" stroke-width="0.4">&gt;</text>
<text x="288.29" y="1736.4" font-size="23.17" fill="#141416" font-style="italic" textLength="22.52" lengthAdjust="spacingAndGlyphs" stroke="#ffffff" stroke-width="0.4">&lt;</text>
<text x="416.12" y="1793.7" font-size="31.09" fill="#141416" font-style="italic" textLength="16.86" lengthAdjust="spacingAndGlyphs" stroke="#ffffff" stroke-width="0.4">&gt;</text>
<text x="329.15" y="1851.0" font-size="40.59" fill="#141416" font-style="italic" textLength="21.07" lengthAdjust="spacingAndGlyphs" stroke="#ffffff" stroke-width="0.4">&gt;</text>
<text x="1010.55" y="1687.8" font-size="40.92" fill="#141416" font-style="italic" textLength="28.72" lengthAdjust="spacingAndGlyphs" stroke="#ffffff" stroke-width="0.4">=</text>
<text x="1061.76" y="1741.1" font-size="36.92" fill="#141416" font-style="italic" textLength="28.60" lengthAdjust="spacingAndGlyphs" stroke="#ffffff" stroke-width="0.4">=</text>
<text x="967.43" y="1796.6" font-size="33.85" fill="#141416" font-style="italic" textLength="25.03" lengthAdjust="spacingAndGlyphs" stroke="#ffffff" stroke-width="0.4">=</text>
<text x="1077.11" y="1851.7" font-size="29.90" fill="#141416" font-style="italic" textLength="23.24" lengthAdjust="spacingAndGlyphs" stroke="#ffffff" stroke-width="0.4">&lt;</text>
<text x="131.47" y="1931.0" font-size="34.00" fill="#5b5b5e" font-weight="bold" textLength="38.32" lengthAdjust="spacingAndGlyphs">86</text>
<text x="160.30" y="209.6" font-size="49.00" fill="#050505" textLength="324.17" lengthAdjust="spacingAndGlyphs" stroke="#050505" stroke-width="0.98" stroke-linejoin="round">pomogalka.org</text>
<text x="820.40" y="317.7" font-size="49.00" fill="#050505" textLength="324.17" lengthAdjust="spacingAndGlyphs" stroke="#050505" stroke-width="0.98" stroke-linejoin="round">pomogalka.org</text>
<text x="316.40" y="705.7" font-size="49.00" fill="#050505" textLength="324.17" lengthAdjust="spacingAndGlyphs" stroke="#050505" stroke-width="0.98" stroke-linejoin="round">pomogalka.org</text>
<text x="868.40" y="681.6" font-size="49.00" fill="#050505" textLength="324.17" lengthAdjust="spacingAndGlyphs" stroke="#050505" stroke-width="0.98" stroke-linejoin="round">pomogalka.org</text>
<text x="596.40" y="1005.8" font-size="49.00" fill="#050505" textLength="324.17" lengthAdjust="spacingAndGlyphs" stroke="#050505" stroke-width="0.98" stroke-linejoin="round">pomogalka.org</text>
<text x="380.40" y="1529.8" font-size="49.00" fill="#050505" textLength="324.17" lengthAdjust="spacingAndGlyphs" stroke="#050505" stroke-width="0.98" stroke-linejoin="round">pomogalka.org</text>
<text x="1112.30" y="1617.8" font-size="49.00" fill="#050505" textLength="324.17" lengthAdjust="spacingAndGlyphs" stroke="#050505" stroke-width="0.98" stroke-linejoin="round">pomogalka.org</text>
<text x="540.40" y="1833.9" font-size="49.00" fill="#050505" textLength="324.17" lengthAdjust="spacingAndGlyphs" stroke="#050505" stroke-width="0.98" stroke-linejoin="round">pomogalka.org</text>
<text x="1112.40" y="1897.7" font-size="49.00" fill="#050505" textLength="324.17" lengthAdjust="spacingAndGlyphs" stroke="#050505" stroke-width="0.98" stroke-linejoin="round">pomogalka.org</text>
<text x="1149.19" y="948.5" font-size="32.80" fill="#050505" textLength="217.47" lengthAdjust="spacingAndGlyphs" stroke="#050505" stroke-width="0.66" stroke-linejoin="round">pomogalka.org</text>
<text x="148.19" y="988.8" font-size="32.80" fill="#050505" textLength="217.47" lengthAdjust="spacingAndGlyphs" stroke="#050505" stroke-width="0.66" stroke-linejoin="round">pomogalka.org</text>
<text x="1136.19" y="1340.8" font-size="32.80" fill="#050505" textLength="217.47" lengthAdjust="spacingAndGlyphs" stroke="#050505" stroke-width="0.66" stroke-linejoin="round">pomogalka.org</text>
<text x="1228.06" y="1155.3" font-size="25.00" fill="#050505" textLength="161.56" lengthAdjust="spacingAndGlyphs" stroke="#050505" stroke-width="0.50" stroke-linejoin="round">pomogalka.org</text>
<text x="156.36" y="1255.3" font-size="25.00" fill="#050505" textLength="161.46" lengthAdjust="spacingAndGlyphs" stroke="#050505" stroke-width="0.50" stroke-linejoin="round">pomogalka.org</text>
<text x="148.06" y="1815.3" font-size="25.00" fill="#050505" textLength="161.56" lengthAdjust="spacingAndGlyphs" stroke="#050505" stroke-width="0.50" stroke-linejoin="round">pomogalka.org</text>
<text x="599.90" y="1257.7" font-size="12.00" fill="#050505" textLength="73.15" lengthAdjust="spacingAndGlyphs" stroke="#050505" stroke-width="0.24" stroke-linejoin="round">pomogalka.org</text>
<text x="731.90" y="1257.7" font-size="12.00" fill="#050505" textLength="73.15" lengthAdjust="spacingAndGlyphs" stroke="#050505" stroke-width="0.24" stroke-linejoin="round">pomogalka.org</text>
<text x="907.90" y="1257.7" font-size="12.00" fill="#050505" textLength="73.15" lengthAdjust="spacingAndGlyphs" stroke="#050505" stroke-width="0.24" stroke-linejoin="round">pomogalka.org</text>
<text x="705.62" y="17.7" font-size="16.50" fill="#ffffff" font-weight="bold" textLength="119.51" lengthAdjust="spacingAndGlyphs" stroke="#2a2ad8" stroke-width="0.75">pomogalka.org</text></svg></body></html>
